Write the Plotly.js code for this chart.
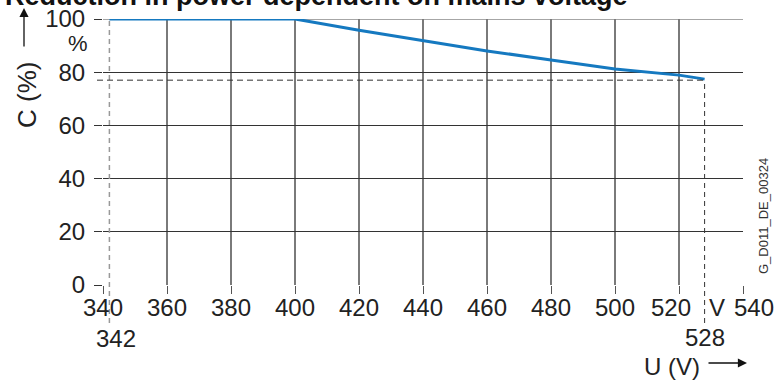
<!DOCTYPE html>
<html>
<head>
<meta charset="utf-8">
<script src="https://cdn.plot.ly/plotly-3.0.1.min.js"></script>
<style>html,body{margin:0;padding:0;background:#fff;}#chart{width:778px;height:381px;}</style>
</head>
<body>
<div id="chart"></div>
<script>
// Data
const voltage = [342, 400, 420, 440, 460, 480, 500, 520, 528];
const capacity = [100, 100, 95.8, 92.0, 88.0, 84.6, 81.2, 78.9, 77.4];
const xTicks = [340, 360, 380, 400, 420, 440, 460, 480, 500, 520, 540];
const yTicks = [0, 20, 40, 60, 80, 100];
const markVoltages = [342, 528];
const markCapacity = 77;
const titleText = "Reduction in power dependent on mains voltage";
const codeText = "G_D011_DE_00324";

const L = 103, R = 743, T = 19, B = 285;
const px = v => (v - L) / (R - L);
const py = v => (B - v) / (B - T);
const font = "Liberation Sans, Arial, sans-serif";
const labelShift = {520: -8, 540: 11};

const trace = {
  x: voltage, y: capacity, type: 'scatter', mode: 'lines',
  line: {color: '#1579c0', width: 3}, cliponaxis: false, hoverinfo: 'skip'
};

const shapes = [
  {type: 'line', xref: 'paper', yref: 'y', x0: 0, x1: 1, y0: yTicks[yTicks.length - 1], y1: yTicks[yTicks.length - 1],
   line: {color: '#888', width: 1.5}, layer: 'below'},
  {type: 'line', xref: 'x', yref: 'paper', x0: markVoltages[0], x1: markVoltages[0], y0: py(323), y1: 1,
   line: {color: '#999', width: 1.5, dash: '5px,4px'}},
  {type: 'line', xref: 'x', yref: 'paper', x0: markVoltages[1], x1: markVoltages[1], y0: py(323), y1: markCapacity / 100,
   line: {color: '#333', width: 1, dash: '5px,4px'}},
  {type: 'line', xref: 'paper', yref: 'y', x0: px(97), x1: px(706), y0: markCapacity, y1: markCapacity,
   line: {color: '#333', width: 1, dash: '6px,4px'}}
];

const annotations = [
  {xref: 'paper', yref: 'paper', x: px(3), y: py(13), text: '<b>' + titleText + '</b>', showarrow: false,
   xanchor: 'left', yanchor: 'bottom', font: {family: font, size: 27, color: '#111'}},
  {xref: 'paper', yref: 'paper', x: px(78), y: py(43), text: '%', showarrow: false,
   xanchor: 'center', yanchor: 'middle', font: {family: font, size: 22, color: '#222'}},
  {xref: 'paper', yref: 'paper', x: px(27), y: py(95), text: 'C (%)', showarrow: false, textangle: -90,
   xanchor: 'center', yanchor: 'middle', font: {family: font, size: 26, color: '#222'}},
  {xref: 'paper', yref: 'paper', x: px(24), y: py(8), ax: 0, ay: 40, text: '', showarrow: true,
   arrowhead: 2, arrowsize: 1.4, arrowwidth: 1.3, arrowcolor: '#111'},
  {xref: 'paper', yref: 'paper', x: px(717), y: py(307), text: 'V', showarrow: false,
   xanchor: 'center', yanchor: 'middle', font: {family: font, size: 24, color: '#222'}},
  {xref: 'x', yref: 'paper', x: markVoltages[0], y: py(338), xshift: 7, text: String(markVoltages[0]), showarrow: false,
   xanchor: 'center', yanchor: 'middle', font: {family: font, size: 24, color: '#222'}},
  {xref: 'x', yref: 'paper', x: markVoltages[1], y: py(337), text: String(markVoltages[1]), showarrow: false,
   xanchor: 'center', yanchor: 'middle', font: {family: font, size: 24, color: '#222'}},
  {xref: 'paper', yref: 'paper', x: px(702), y: py(366), text: 'U (V)', showarrow: false,
   xanchor: 'right', yanchor: 'middle', font: {family: font, size: 24, color: '#222'}},
  {xref: 'paper', yref: 'paper', x: px(747), y: py(363), ax: -40, ay: 0, text: '', showarrow: true,
   arrowhead: 2, arrowsize: 1.4, arrowwidth: 1.3, arrowcolor: '#111'},
  {xref: 'paper', yref: 'paper', x: px(763), y: py(216), text: codeText, showarrow: false, textangle: -90,
   xanchor: 'center', yanchor: 'middle', font: {family: font, size: 13, color: '#333'}}
];

xTicks.forEach(v => {
  annotations.push({xref: 'x', yref: 'paper', x: v, y: py(307), xshift: labelShift[v] || 0,
    text: String(v), showarrow: false, xanchor: 'center', yanchor: 'middle',
    font: {family: font, size: 24, color: '#222'}});
});

const layout = {
  width: 778, height: 381,
  margin: {l: L, r: 778 - R, t: T, b: 381 - B, pad: 0},
  paper_bgcolor: '#fff', plot_bgcolor: '#fff',
  showlegend: false,
  xaxis: {
    range: [340, 540], tickvals: xTicks, showticklabels: false,
    ticks: 'outside', ticklen: 8, tickcolor: '#555', tickwidth: 1,
    showgrid: true, gridcolor: '#7a7a7a', gridwidth: 1.3,
    showline: false, zeroline: false, fixedrange: true
  },
  yaxis: {
    range: [0, 100], tickvals: yTicks, ticktext: yTicks.map(String),
    ticks: 'outside', ticklen: 8, tickcolor: '#333', tickwidth: 1,
    ticklabelstandoff: 4,
    showgrid: true, gridcolor: '#333', gridwidth: 1,
    showline: false, zeroline: false,
    tickfont: {family: font, size: 24, color: '#222'}, fixedrange: true
  },
  shapes: shapes,
  annotations: annotations
};

Plotly.newPlot('chart', [trace], layout, {displayModeBar: false, staticPlot: true});
</script>
</body>
</html>
